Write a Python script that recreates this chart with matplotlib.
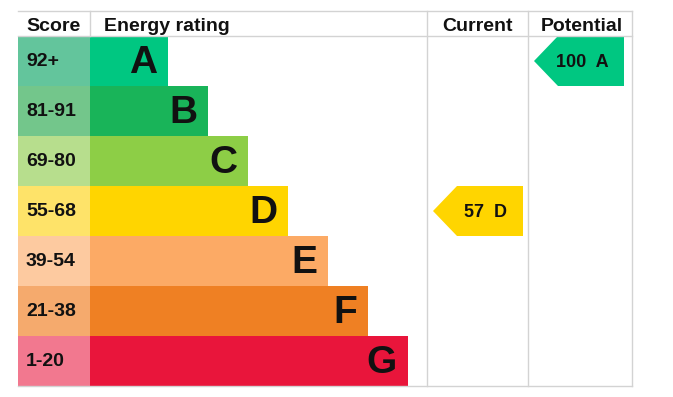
import matplotlib
matplotlib.use("Agg")
import matplotlib.pyplot as plt
from matplotlib.patches import Rectangle, Polygon

# ---- data ----
bands = ["A", "B", "C", "D", "E", "F", "G"]
score_ranges = ["92+", "81-91", "69-80", "55-68", "39-54", "21-38", "1-20"]
range_low = [92, 81, 69, 55, 39, 21, 1]
bar_colors = ["#00c781", "#19b459", "#8dce46", "#ffd500", "#fcaa65", "#ef8023", "#e9153b"]
score_colors = ["#63c59c", "#73c68b", "#b7de8d", "#fee369", "#fdcaa0", "#f5aa6d", "#f2788f"]
current_score = 57
potential_score = 100
headers = ["Score", "Energy rating", "Current", "Potential"]

# ---- layout (pixels) ----
W, H = 673, 397
left, score_right = 18, 90
cur_left, pot_left, right = 427, 528, 632
top, head_bottom, row_h = 11, 36, 50
bar_base, bar_step = 78, 40
grid = "#d3d3d3"
font = "Liberation Sans"
tc = "#111111"

fig = plt.figure(figsize=(W / 100, H / 100), dpi=100)
ax = fig.add_axes([0, 0, 1, 1])
ax.set_xlim(0, W)
ax.set_ylim(H, 0)
ax.axis("off")

def band_of(score):
    for i, lo in enumerate(range_low):
        if score >= lo:
            return i
    return len(range_low) - 1

bottom = head_bottom + row_h * len(bands)

for i, (b, sr) in enumerate(zip(bands, score_ranges)):
    y0 = head_bottom + i * row_h
    ax.add_patch(Rectangle((left, y0), score_right - left, row_h,
                           facecolor=score_colors[i], edgecolor="none"))
    bw = bar_base + i * bar_step
    ax.add_patch(Rectangle((score_right, y0), bw, row_h,
                           facecolor=bar_colors[i], edgecolor="none"))
    ax.text(left + 8, y0 + 30, sr, fontsize=14, fontweight="bold",
            family=font, ha="left", va="baseline", color=tc)
    ax.text(score_right + bw - 11, y0 + 37, b, fontsize=28,
            fontweight="bold", family=font, ha="right", va="baseline", color=tc)

# grid lines
lw = 1.0
ax.plot([left, right], [top, top], color=grid, lw=lw)
ax.plot([left, right], [head_bottom, head_bottom], color=grid, lw=lw)
ax.plot([left, right], [bottom, bottom], color=grid, lw=lw)
ax.plot([score_right, score_right], [top, head_bottom], color=grid, lw=lw)
for x in (cur_left, pot_left, right):
    ax.plot([x, x], [top, bottom], color=grid, lw=lw)

# headers
hb = 31
ax.text(left + 8, hb, headers[0], fontsize=14, fontweight="bold", family=font,
        ha="left", va="baseline", color=tc)
ax.text(score_right + 14, hb, headers[1], fontsize=14, fontweight="bold", family=font,
        ha="left", va="baseline", color=tc)
ax.text((cur_left + pot_left) / 2, hb, headers[2], fontsize=14, fontweight="bold",
        family=font, ha="center", va="baseline", color=tc)
ax.text((pot_left + right) / 2 + 2, hb, headers[3], fontsize=14, fontweight="bold",
        family=font, ha="center", va="baseline", color=tc)

# arrows
def arrow(col_left, score):
    i = band_of(score)
    y0 = head_bottom + i * row_h
    x_tip = col_left + 6
    x_flat = x_tip + 24
    x_end = x_tip + 90
    poly = Polygon([(x_tip, y0 + row_h / 2), (x_flat, y0), (x_end, y0),
                    (x_end, y0 + row_h), (x_flat, y0 + row_h)],
                   closed=True, facecolor=bar_colors[i], edgecolor="none")
    ax.add_patch(poly)
    ax.text(x_end - 15.5, y0 + 30.7, f"{score}  {bands[i]}",
            fontsize=13, fontweight="bold", family=font, ha="right", va="baseline",
            color=tc)

arrow(cur_left, current_score)
arrow(pot_left, potential_score)

fig.savefig("out.png", dpi=100)
